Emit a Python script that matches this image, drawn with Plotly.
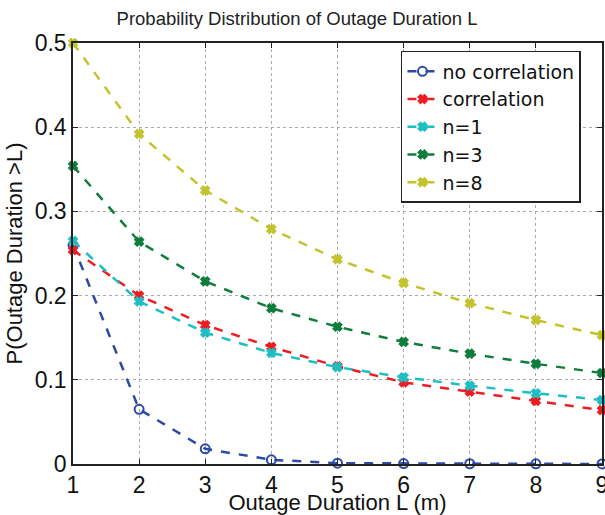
import plotly.graph_objs as go

L = [1, 2, 3, 4, 5, 6, 7, 8, 9]

no_corr = [0.260, 0.065, 0.018, 0.005, 0.001, 0.0005, 0.0003, 0.0002, 0.0001]
corr = [0.254, 0.200, 0.165, 0.139, 0.116, 0.097, 0.086, 0.075, 0.064]
n1 = [0.265, 0.193, 0.156, 0.132, 0.115, 0.103, 0.093, 0.084, 0.076]
n3 = [0.354, 0.264, 0.217, 0.185, 0.163, 0.145, 0.131, 0.119, 0.108]
n8 = [0.500, 0.392, 0.325, 0.279, 0.243, 0.215, 0.191, 0.171, 0.153]

series = [
    ('no correlation', no_corr, 'rgb(45,75,165)', 'circle-open'),
    ('correlation', corr, 'rgb(235,30,35)', 'x'),
    ('n=1', n1, 'rgb(30,190,195)', 'x'),
    ('n=3', n3, 'rgb(15,125,60)', 'x'),
    ('n=8', n8, 'rgb(195,195,45)', 'x'),
]

traces = []
for name, vals, col, sym in series:
    traces.append(go.Scatter(
        x=L, y=vals, name=name, mode='lines+markers',
        line=dict(color=col, width=2.5, dash='dash'),
        marker=dict(symbol=sym, size=7 if sym == 'x' else 9, color=col,
                    line=dict(width=2, color=col)),
        cliponaxis=False,
    ))

font = 'Liberation Sans, Arial, sans-serif'
layout = go.Layout(
    width=605, height=515,
    margin=dict(l=73, r=3, t=43, b=51),
    paper_bgcolor='white', plot_bgcolor='white',
    title=dict(text='Probability Distribution of Outage Duration L',
               x=0.491, xanchor='center', y=0.965, yanchor='middle',
               font=dict(family=font, size=18.5, color='#222')),
    font=dict(family=font, color='#111'),
    xaxis=dict(
        title=dict(text='Outage Duration L (m)', font=dict(size=22), standoff=5),
        range=[1, 9], dtick=1, tickfont=dict(size=23),
        ticklabeloverflow='allow', automargin=False,
        showline=True, linecolor='#222', linewidth=1.5, mirror='ticks',
        ticks='inside', ticklen=5, tickcolor='#222',
        showgrid=True, gridcolor='#aaa', griddash='dot', gridwidth=1,
        zeroline=False,
    ),
    yaxis=dict(
        title=dict(text='P(Outage Duration >L)', font=dict(size=22), standoff=6),
        range=[0, 0.5], tickfont=dict(size=23), automargin=False,
        tickvals=[0, 0.1, 0.2, 0.3, 0.4, 0.5],
        ticktext=['0', '0.1', '0.2', '0.3', '0.4', '0.5'],
        showline=True, linecolor='#222', linewidth=1.5, mirror='ticks',
        ticks='inside', ticklen=5, tickcolor='#222',
        showgrid=True, gridcolor='#aaa', griddash='dot', gridwidth=1,
        zeroline=False,
    ),
    legend=dict(
        x=0.62, y=0.981, xanchor='left', yanchor='top',
        bgcolor='white', bordercolor='#222', borderwidth=1.5,
        font=dict(family='DejaVu Sans', size=19, color='#111'),
        tracegroupgap=0, itemwidth=30,
    ),
)

fig = go.Figure(data=traces, layout=layout)
# no body margin / scrollbars so the figure fills the window exactly
fig.write_html('out.html', config={'displayModeBar': False},
               post_script="document.body.style.margin='0';"
                           "document.body.style.overflow='hidden';")
